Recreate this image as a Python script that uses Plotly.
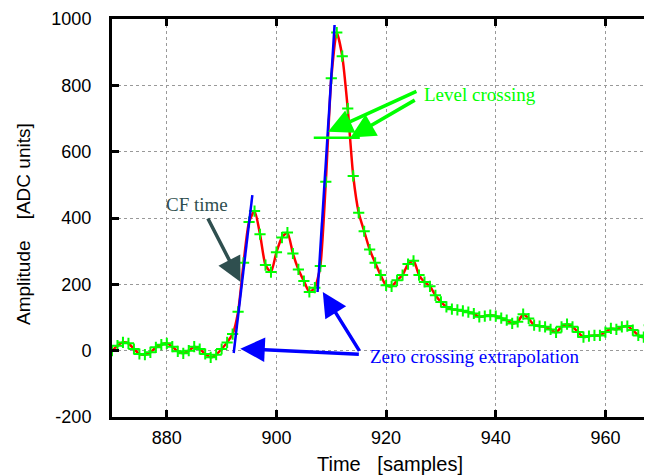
import plotly.graph_objects as go

# ---- data ----
samples = list(range(870, 969))
amplitude = [
    0, 15, 25, 22, 5, -10, -12, -5, 10, 18,          # 870-879
    22, 12, -2, -8, 0, 12, 5, -10, -20, -12,         # 880-889
    5, 25, 50, 117, 265, 388, 421, 351, 258, 237,    # 890-899
    297, 341, 356, 293, 245, 210, 177, 190, 255, 509,  # 900-909
    821, 959, 888, 730, 527, 416, 360, 305, 265, 228,  # 910-919
    197, 194, 212, 228, 261, 271, 228, 207, 194, 167,  # 920-929
    147, 132, 125, 123, 120, 116, 112, 102, 104, 107,  # 930-939
    104, 98, 92, 82, 87, 110, 97, 77, 74, 72,          # 940-949
    64, 55, 72, 80, 72, 56, 41, 44, 46, 46,            # 950-959
    56, 67, 64, 72, 74, 62, 46, 41, 77,                # 960-968
]

# extrapolation lines (leading-edge fits)
fit1_x = [892.2, 895.6]
fit1_y = [-7, 469]
fit2_x = [907.5, 910.6]
fit2_y = [177, 982]

# level crossing threshold line
level_x = [906.8, 915.2]
level_y = [642, 642]

x_ticks = [880, 900, 920, 940, 960]
y_ticks = [-200, 0, 200, 400, 600, 800, 1000]
y_ticklabels = ["-200", "0", "200", "400", "600", "800", "1000"]

x_title = "Time\u00a0\u00a0\u00a0[samples]"
y_title = "Amplitude\u00a0\u00a0\u00a0\u00a0[ADC units]"

# annotations: (text, x, y)
label_cf = ("CF time", 891.6, 441)
label_level = ("Level crossing", 926.6, 773)
label_zero = ("Zero crossing extrapolation", 916.65, -17)

# arrows: (tip_x, tip_y, tail_x, tail_y)
arrow_cf = [(893.45, 207, 887.35, 403)]
arrows_zero = [(893.4, 6, 915.3, -11), (908.45, 177, 915.3, -5)]
arrows_level = [(909.4, 660, 925.8, 784), (913.5, 643, 925.5, 758)]

GREEN = "#00ff00"
RED = "#ff0000"
BLUE = "#0000ff"
SLATE = "#2f4f4f"

fig = go.Figure()

fig.add_trace(go.Scatter(x=samples, y=amplitude, mode="lines",
                         line=dict(color=RED, width=2.5, shape="spline", smoothing=0.6),
                         hoverinfo="skip"))
fig.add_trace(go.Scatter(x=samples, y=amplitude, mode="markers",
                         marker=dict(symbol="cross-thin", size=8,
                                     line=dict(color=GREEN, width=2), color=GREEN)))
fig.add_trace(go.Scatter(x=fit1_x, y=fit1_y, mode="lines", line=dict(color=BLUE, width=2.5)))
fig.add_trace(go.Scatter(x=fit2_x, y=fit2_y, mode="lines", line=dict(color=BLUE, width=2.5)))
fig.add_trace(go.Scatter(x=level_x, y=level_y, mode="lines", line=dict(color=GREEN, width=2.5)))

serif = "Liberation Serif, Times New Roman, serif"
sans = "Liberation Sans, Arial, sans-serif"
anns = []
anns.append(dict(text=label_cf[0], x=label_cf[1], y=label_cf[2], xref="x", yref="y",
                 xanchor="right", yanchor="middle", showarrow=False,
                 font=dict(family=serif, size=19, color=SLATE)))
anns.append(dict(text=label_level[0], x=label_level[1], y=label_level[2], xref="x", yref="y",
                 xanchor="left", yanchor="middle", showarrow=False,
                 font=dict(family=serif, size=19, color=GREEN)))
anns.append(dict(text=label_zero[0], x=label_zero[1], y=label_zero[2], xref="x", yref="y",
                 xanchor="left", yanchor="middle", showarrow=False,
                 font=dict(family=serif, size=19, color=BLUE)))

# axis titles as annotations (paper coords)
anns.append(dict(text=x_title, x=0.515, y=-0.118, xref="paper", yref="paper",
                 xanchor="center", yanchor="middle", showarrow=False,
                 font=dict(family=sans, size=20, color="black")))
anns.append(dict(text=y_title, x=-0.163, y=0.485, xref="paper", yref="paper",
                 xanchor="center", yanchor="middle", showarrow=False, textangle=-90,
                 font=dict(family=sans, size=19, color="black")))


def add_arrows(lst, color):
    for tx, ty, sx, sy in lst:
        anns.append(dict(text="", x=tx, y=ty, ax=sx, ay=sy, xref="x", yref="y",
                         axref="x", ayref="y", showarrow=True, arrowhead=2,
                         arrowsize=1.4, arrowwidth=3.5, arrowcolor=color, standoff=0))


add_arrows(arrow_cf, SLATE)
add_arrows(arrows_zero, BLUE)
add_arrows(arrows_level, GREEN)

# page body has an 8px margin: size the figure so the plot box lands where the reference has it
fig.update_layout(
    width=644, height=468,
    margin=dict(l=104, r=0, t=11, b=59, autoexpand=False),
    plot_bgcolor="white", paper_bgcolor="white",
    showlegend=False,
    annotations=anns,
    font=dict(family=sans, color="black"),
    xaxis=dict(range=[870, 968.5], tickvals=x_ticks, ticks="inside", ticklen=7, tickwidth=2.5,
               tickcolor="black", showline=True, linewidth=3, linecolor="black", mirror="ticks",
               showgrid=True, gridcolor="#999999", griddash="dot", gridwidth=1, zeroline=False,
               tickfont=dict(size=18, family=sans), ticklabelstandoff=2, automargin=False),
    yaxis=dict(range=[-200, 1000], tickvals=y_ticks, ticktext=y_ticklabels, ticks="inside",
               ticklen=7, tickwidth=2.5, tickcolor="black", showline=True, linewidth=3,
               linecolor="black", mirror=False, showgrid=True, gridcolor="#999999",
               griddash="dot", gridwidth=1, zeroline=False,
               tickfont=dict(size=18, family=sans), ticklabelstandoff=14, automargin=False),
)

fig.write_html("out.html")
